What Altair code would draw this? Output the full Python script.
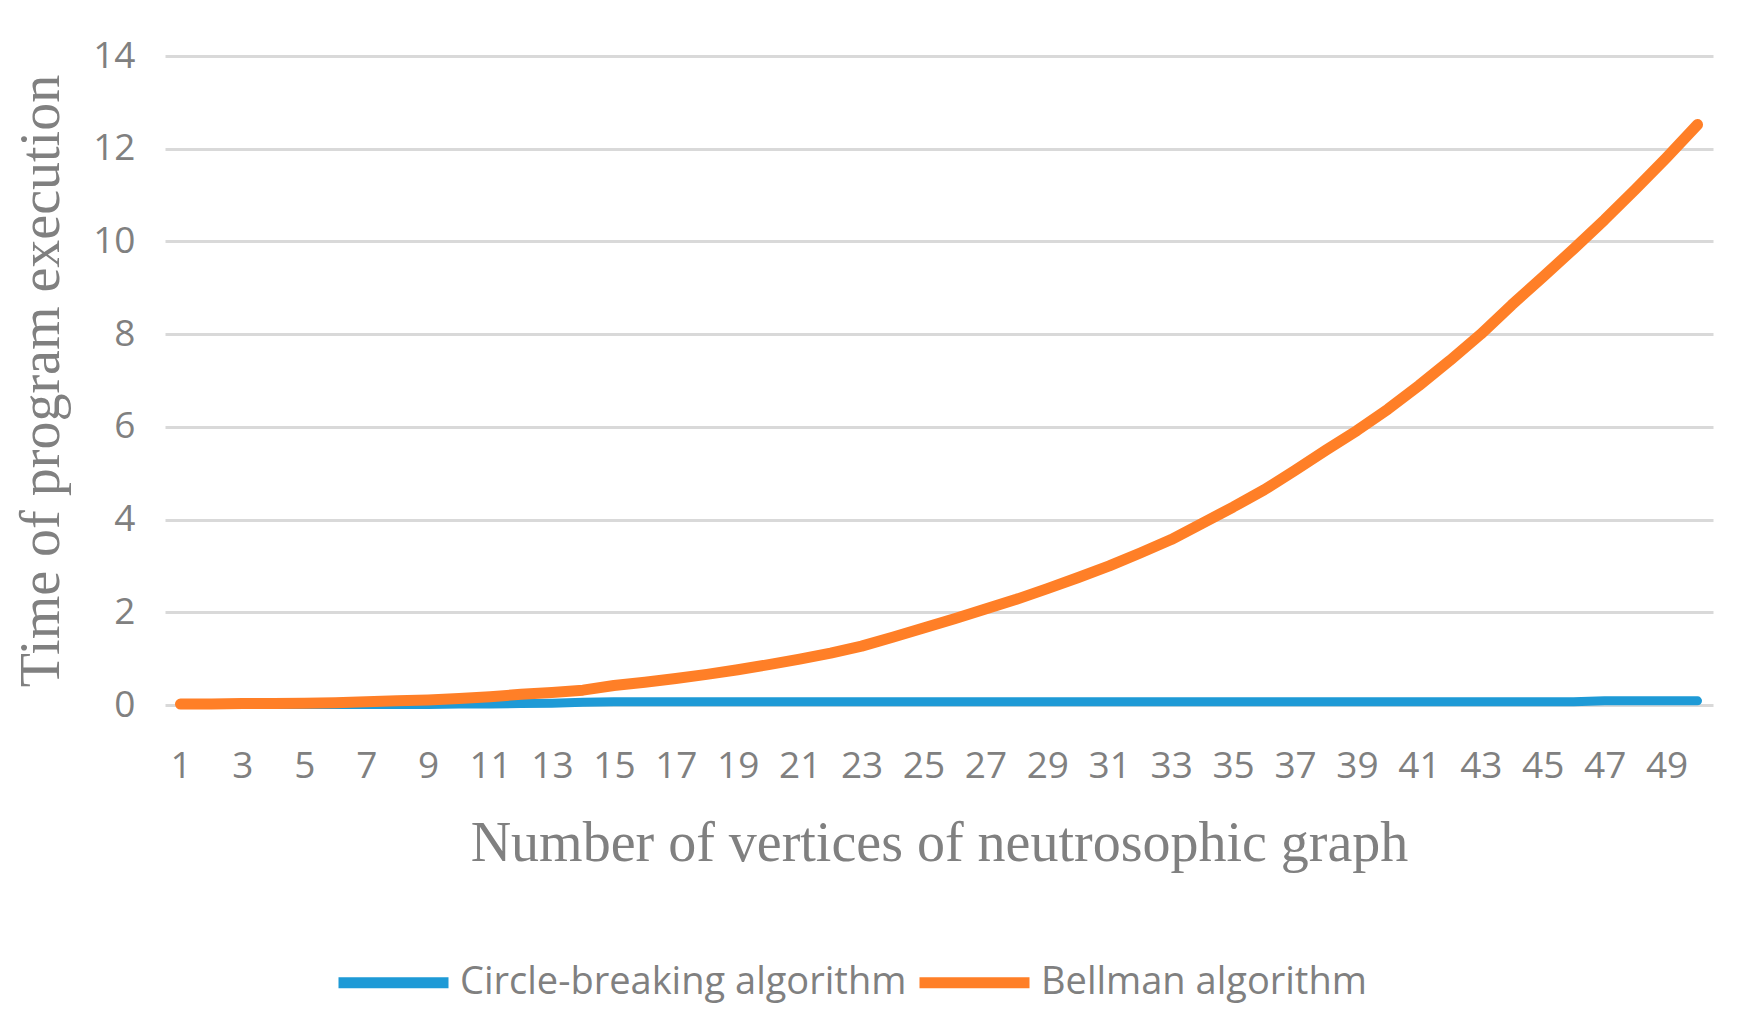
import altair as alt
import pandas as pd

vertices = list(range(1, 51))
circle_breaking = [0.01, 0.01, 0.01, 0.01, 0.01, 0.01, 0.01, 0.01, 0.01, 0.02,
                   0.02, 0.03, 0.04, 0.06, 0.07, 0.07, 0.07, 0.07, 0.07, 0.07,
                   0.07, 0.07, 0.07, 0.07, 0.07, 0.07, 0.07, 0.07, 0.07, 0.07,
                   0.07, 0.07, 0.07, 0.07, 0.07, 0.07, 0.07, 0.07, 0.07, 0.07,
                   0.07, 0.07, 0.07, 0.07, 0.07, 0.07, 0.09, 0.09, 0.09, 0.09]
bellman = [0.02, 0.02, 0.03, 0.03, 0.04, 0.05, 0.07, 0.09, 0.11, 0.14,
           0.18, 0.23, 0.27, 0.32, 0.42, 0.49, 0.57, 0.66, 0.76, 0.87,
           0.99, 1.12, 1.27, 1.46, 1.66, 1.86, 2.07, 2.28, 2.51, 2.75,
           3.00, 3.28, 3.57, 3.92, 4.27, 4.64, 5.06, 5.50, 5.92, 6.38,
           6.89, 7.43, 8.00, 8.63, 9.23, 9.84, 10.47, 11.13, 11.81, 12.52]
series_names = ["Circle-breaking algorithm", "Bellman algorithm"]
series_colors = ["#1E9AD6", "#FF7F27"]
x_tick_labels = list(range(1, 51, 2))

df = pd.concat([
    pd.DataFrame({"n": vertices, "t": circle_breaking, "s": series_names[0]}),
    pd.DataFrame({"n": vertices, "t": bellman, "s": series_names[1]}),
])

gray = "#808080"
x = alt.X("n:O", title="Number of vertices of neutrosophic graph",
          scale=alt.Scale(type="point", padding=0.5),
          axis=alt.Axis(values=x_tick_labels, labelAngle=0, ticks=False, domain=False,
                        grid=False, labelFont="Open Sans", labelFontSize=37,
                        labelColor=gray, labelPadding=43,
                        titleFont="Liberation Serif", titleFontSize=56,
                        titleFontWeight="normal", titleColor=gray,
                        titleY=138, titleBaseline="middle"))
y = alt.Y("t:Q", title="Time of program execution",
          scale=alt.Scale(domain=[0, 14], nice=False),
          axis=alt.Axis(values=list(range(0, 15, 2)), ticks=False, domain=False,
                        grid=True, gridColor="#D9D9D9", gridWidth=3,
                        labelFont="Open Sans", labelFontSize=37, labelColor=gray,
                        labelPadding=30,
                        titleFont="Liberation Serif", titleFontSize=56,
                        titleFontWeight="normal", titleColor=gray,
                        titleX=-124, titleBaseline="middle"))
color = alt.Color("s:N", title=None,
                  scale=alt.Scale(domain=series_names, range=series_colors),
                  legend=alt.Legend(orient="none", legendX=168, legendY=866,
                                    direction="horizontal", symbolType="stroke",
                                    symbolSize=12100, symbolStrokeWidth=11,
                                    labelFont="Open Sans", labelFontSize=38,
                                    labelColor=gray, labelOffset=6,
                                    columnPadding=-10, labelLimit=800))

blue = alt.Chart(df).mark_line(strokeWidth=9, strokeCap="round", strokeJoin="round").transform_filter(
    alt.datum.s == series_names[0]).encode(x=x, y=y, color=color)
orange = alt.Chart(df).mark_line(strokeWidth=11, strokeCap="round", strokeJoin="round").transform_filter(
    alt.datum.s == series_names[1]).encode(x=x, y=y, color=color)

chart = alt.layer(blue, orange).properties(
    width=1548, height=649,
    autosize=alt.AutoSizeParams(type="none"),
    padding={"left": 157, "top": 48, "right": 23, "bottom": 300},
).configure_view(stroke=None)

chart.save("out.html", embed_options={"renderer": "svg", "actions": False})
